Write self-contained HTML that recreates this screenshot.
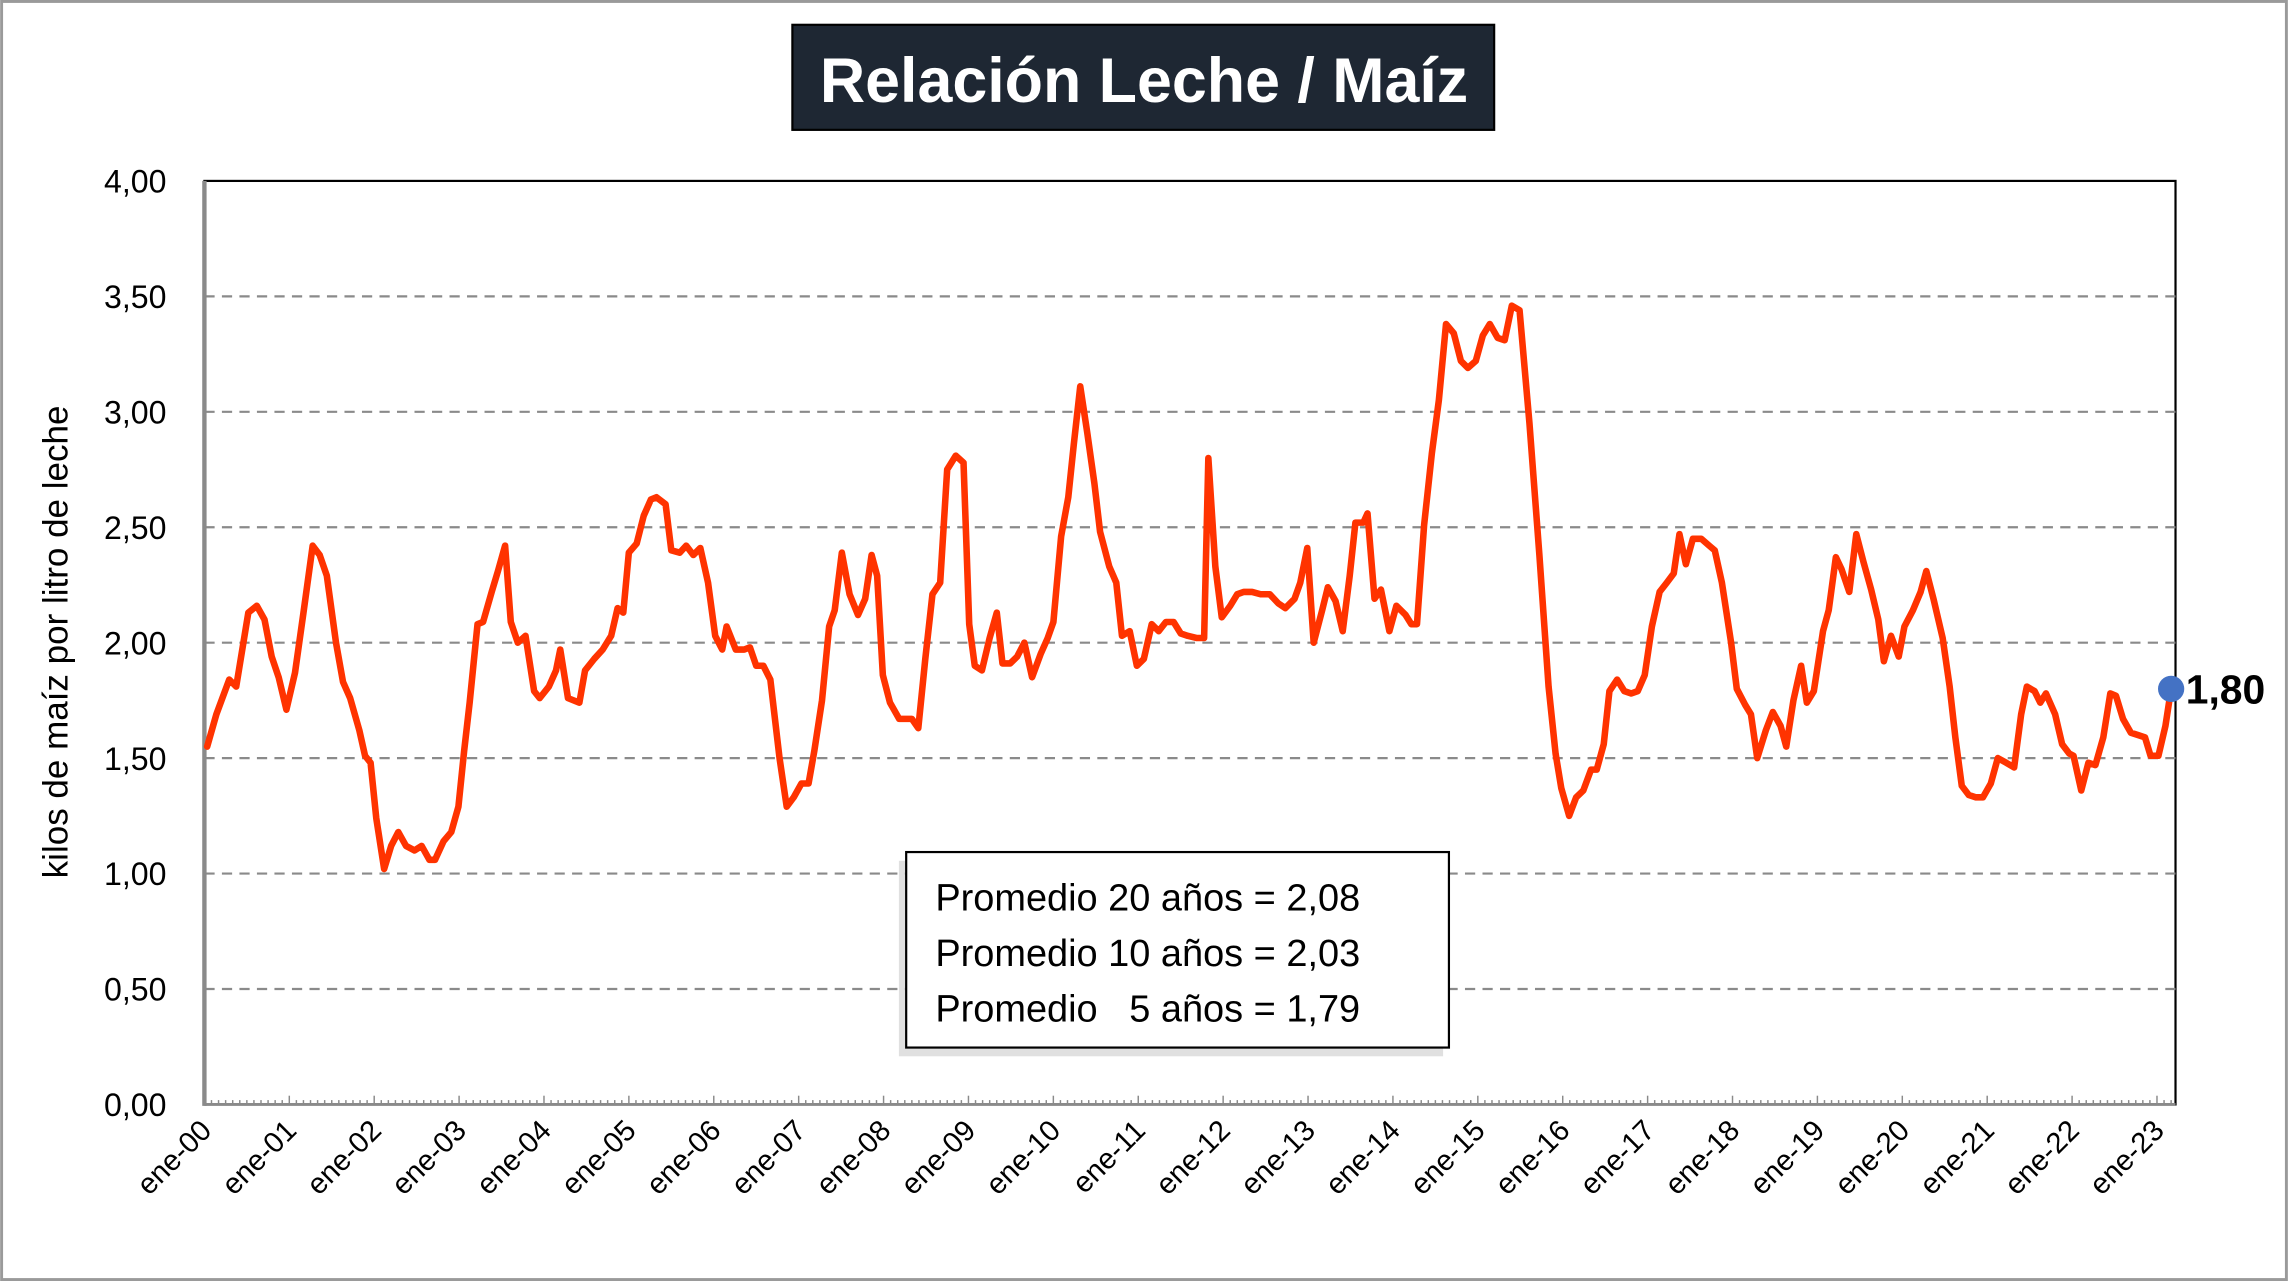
<!DOCTYPE html>
<html><head><meta charset="utf-8"><style>
html,body{margin:0;padding:0;background:#fff}
svg{display:block}
text{font-family:"Liberation Sans",sans-serif}
</style></head><body>
<svg id="chart" width="2288" height="1281" viewBox="0 0 1568 878" xmlns="http://www.w3.org/2000/svg">
<rect x="1" y="1" width="1566" height="876" fill="#fff" stroke="#9a9a9a" stroke-width="2"/>
<rect x="543" y="17" width="481" height="72" fill="#1e2733" stroke="#000" stroke-width="1.5"/>
<text x="784" y="70" text-anchor="middle" font-size="43" font-weight="bold" fill="#fff">Relación Leche / Maíz</text>
<rect x="140" y="124" width="1351" height="633" fill="#fff" stroke="#000" stroke-width="1.5"/>
<g id="grid"></g>
<g id="yticks"></g>
<g id="xticks"></g>
<line x1="140" y1="124" x2="140" y2="758" stroke="#8a8a8a" stroke-width="3"/>
<line x1="140" y1="757" x2="1491" y2="757" stroke="#8a8a8a" stroke-width="2"/>
<text transform="translate(46,440) rotate(-90)" text-anchor="middle" font-size="24" fill="#000">kilos de maíz por litro de leche</text>
<g id="series"></g>
<rect x="616" y="590" width="373" height="134" fill="#ccc" opacity="0.6"/>
<rect x="621" y="584" width="372" height="134" fill="#fff" stroke="#000" stroke-width="1.5"/>
<text x="641" y="624" font-size="26">Promedio 20 años = 2,08</text>
<text x="641" y="662" font-size="26">Promedio 10 años = 2,03</text>
<text x="641" y="700" font-size="26" xml:space="preserve">Promedio   5 años = 1,79</text>
</svg>
<script>
const yTicks=[0,0.5,1,1.5,2,2.5,3,3.5,4];
const yTickLabels=["0,00","0,50","1,00","1,50","2,00","2,50","3,00","3,50","4,00"];
const xTickLabels=["ene-00","ene-01","ene-02","ene-03","ene-04","ene-05","ene-06","ene-07","ene-08","ene-09","ene-10","ene-11","ene-12","ene-13","ene-14","ene-15","ene-16","ene-17","ene-18","ene-19","ene-20","ene-21","ene-22","ene-23"];
const totalMonths=278;
const months=[0.4,1.7,3.5,4.5,6.2,7.4,8.5,9.5,10.5,11.6,12.8,14.0,15.3,16.3,17.3,18.6,19.6,20.6,21.9,22.7,23.5,24.3,25.4,26.4,27.4,28.5,29.7,30.7,31.8,32.6,33.8,34.9,35.9,36.7,37.5,38.6,39.4,40.6,41.5,42.5,43.3,44.3,45.4,46.6,47.4,48.7,49.7,50.3,51.4,53.0,53.8,55.1,56.3,57.5,58.4,59.2,60.0,61.1,62.1,63.1,63.9,65.2,66.0,67.2,68.1,69.1,70.1,71.2,72.2,73.2,73.8,75.1,76.3,77.1,78.0,79.0,80.0,81.3,82.3,83.3,84.4,85.4,86.2,87.3,88.3,89.1,90.1,91.2,92.4,93.4,94.3,95.1,95.9,96.9,98.2,99.2,100.0,100.9,101.9,102.9,104.0,105.0,106.2,107.3,108.1,108.9,109.9,111.0,112.0,112.8,113.9,114.9,115.9,117.0,118.2,119.2,120.0,121.1,122.1,122.9,123.8,124.8,125.8,126.6,127.9,128.9,129.7,130.8,131.8,132.8,133.9,134.9,135.9,137.0,138.0,139.0,140.3,141.3,141.9,142.9,143.8,145.0,146.0,146.9,148.1,149.3,150.6,151.8,152.8,154.1,154.9,155.9,156.8,158.0,158.8,159.9,160.9,161.9,162.7,163.8,164.4,165.4,166.3,167.5,168.5,169.8,170.6,171.4,172.4,173.5,174.5,175.5,176.6,177.6,178.6,179.7,180.7,181.7,182.8,183.8,184.8,185.9,187.3,188.7,190.0,191.0,191.8,192.9,193.9,194.9,196.0,196.8,197.8,198.6,199.7,200.7,201.7,202.6,203.6,204.6,205.7,206.7,207.7,208.5,209.4,210.4,211.6,212.7,213.5,214.5,215.8,216.6,217.8,218.6,219.5,220.7,221.7,222.8,223.6,224.6,225.7,226.5,227.5,228.8,229.6,230.6,231.4,232.5,233.5,234.5,235.6,236.6,237.4,238.4,239.5,240.3,241.5,242.6,243.4,244.4,245.7,246.7,247.5,248.4,249.4,250.4,251.4,252.5,253.5,254.7,255.8,256.8,257.6,258.7,259.5,260.3,261.6,262.6,263.6,264.2,265.3,266.3,267.3,268.4,269.4,270.2,271.2,272.3,273.3,274.3,275.1,276.2,277.2,278.0];
const values=[1.55,1.69,1.84,1.81,2.13,2.16,2.10,1.94,1.85,1.71,1.87,2.13,2.42,2.38,2.29,2.00,1.83,1.76,1.62,1.51,1.48,1.24,1.02,1.12,1.18,1.12,1.10,1.12,1.06,1.06,1.14,1.18,1.29,1.53,1.74,2.08,2.09,2.22,2.31,2.42,2.09,2.00,2.03,1.79,1.76,1.81,1.88,1.97,1.76,1.74,1.88,1.93,1.97,2.03,2.15,2.13,2.39,2.43,2.55,2.62,2.63,2.60,2.40,2.39,2.42,2.38,2.41,2.26,2.03,1.97,2.07,1.97,1.97,1.98,1.90,1.90,1.84,1.50,1.29,1.33,1.39,1.39,1.53,1.75,2.07,2.14,2.39,2.21,2.12,2.19,2.38,2.29,1.86,1.74,1.67,1.67,1.67,1.63,1.93,2.21,2.26,2.75,2.81,2.78,2.08,1.90,1.88,2.02,2.13,1.91,1.91,1.94,2.00,1.85,1.95,2.02,2.09,2.46,2.63,2.86,3.11,2.91,2.69,2.48,2.33,2.26,2.03,2.05,1.90,1.93,2.08,2.05,2.09,2.09,2.04,2.03,2.02,2.02,2.80,2.33,2.11,2.16,2.21,2.22,2.22,2.21,2.21,2.17,2.15,2.19,2.26,2.41,2.00,2.14,2.24,2.18,2.05,2.29,2.52,2.52,2.56,2.19,2.23,2.05,2.16,2.12,2.08,2.08,2.51,2.82,3.05,3.38,3.34,3.22,3.19,3.22,3.33,3.38,3.32,3.31,3.46,3.44,2.95,2.38,1.81,1.52,1.37,1.25,1.33,1.36,1.45,1.45,1.56,1.79,1.84,1.79,1.78,1.79,1.86,2.07,2.22,2.26,2.30,2.47,2.34,2.45,2.45,2.42,2.40,2.26,2.00,1.80,1.73,1.69,1.50,1.62,1.70,1.64,1.55,1.75,1.90,1.74,1.79,2.05,2.14,2.37,2.32,2.22,2.47,2.35,2.23,2.10,1.92,2.03,1.94,2.07,2.14,2.22,2.31,2.19,2.02,1.81,1.59,1.38,1.34,1.33,1.33,1.39,1.50,1.48,1.46,1.69,1.81,1.79,1.74,1.78,1.69,1.56,1.52,1.51,1.36,1.48,1.47,1.59,1.78,1.77,1.67,1.61,1.60,1.59,1.51,1.51,1.64,1.80];
const lastLabel="1,80";
const NS="http://www.w3.org/2000/svg";
const X0=140,X1=1488,Y0=757,Y1=124;
function yScale(v){return Y0-(v/4)*(Y0-Y1);}
function xMonth(m){return X0+m/totalMonths*(X1-X0);}
function mk(tag,attrs,parent){const e=document.createElementNS(NS,tag);for(const k in attrs)e.setAttribute(k,attrs[k]);parent.appendChild(e);return e;}
const grid=document.getElementById('grid'),yt=document.getElementById('yticks'),xt=document.getElementById('xticks'),ser=document.getElementById('series');
yTicks.forEach((v,i)=>{
  if(v>0&&v<4){const l=mk('line',{x1:X0,x2:1491,y1:yScale(v),y2:yScale(v),stroke:'#8a8a8a','stroke-width':1.5,'stroke-dasharray':'7,5'},grid);
  
  }
  const t=mk('text',{x:114,y:yScale(v)+8,'text-anchor':'end','font-size':22},yt);
  
  
  t.textContent=yTickLabels[i];
});
for(let m=0;m<=totalMonths;m++){
  const tk=mk('line',{x1:xMonth(m),x2:xMonth(m),y1:Y0,y2:Y0-(m%12===0?6:3),stroke:'#8a8a8a','stroke-width':1},xt);
  
  
}
xTickLabels.forEach((s,i)=>{
  const x=xMonth(i*12);
  const t=mk('text',{transform:`translate(${x+6},${776}) rotate(-45)`,'text-anchor':'end','font-size':20},xt);
  
  
  t.textContent=s;
});
const n=Math.min(months.length,values.length);
const pts=[];
for(let i=0;i<n;i++)pts.push(xMonth(months[i]).toFixed(1)+','+yScale(values[i]).toFixed(1));
const pl=mk('polyline',{points:pts.join(' '),fill:'none',stroke:'#ff3300','stroke-width':4.5,'stroke-linejoin':'round','stroke-linecap':'round'},ser);


const lv=values[n-1],lm=months[n-1];
const dot=mk('circle',{cx:xMonth(lm),cy:yScale(lv),r:9,fill:'#4472c4'},ser);


const lt=mk('text',{x:xMonth(lm)+10,y:yScale(lv)+10,'font-size':28,'font-weight':'bold'},ser);


lt.textContent=lastLabel;
</script>
</body></html>
